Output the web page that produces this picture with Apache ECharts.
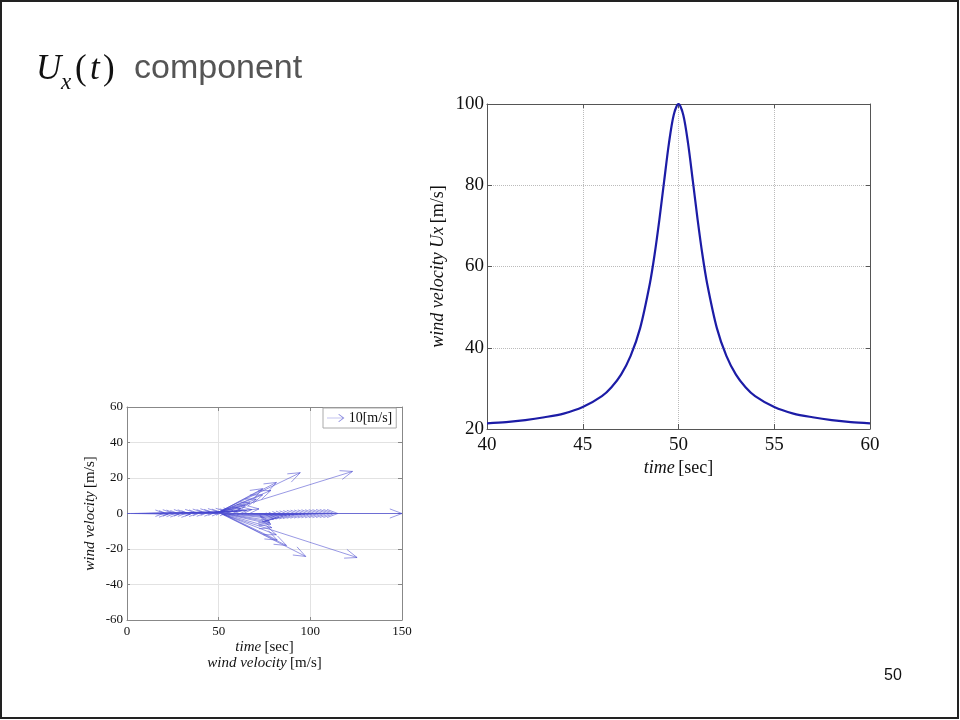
<!DOCTYPE html>
<html>
<head>
<meta charset="utf-8">
<script src="https://cdn.jsdelivr.net/npm/echarts@6/dist/echarts.min.js"></script>
<style>
  html, body { margin: 0; padding: 0; background: #fff; }
  #main { width: 960px; height: 720px; }
</style>
</head>
<body>
<div id="main"></div>
<script>
// main plot: wind velocity Ux vs time
var mainTime = [40, 41, 42, 43, 44, 45, 46, 46.5, 47, 47.5, 48, 48.5, 48.75, 49, 49.25, 49.5, 49.75, 50,
                50.25, 50.5, 50.75, 51, 51.25, 51.5, 52, 52.5, 53, 53.5, 54, 55, 56, 57, 58, 59, 60];
var mainUx = [21.4, 21.7, 22.2, 22.9, 23.8, 25.4, 28.1, 30.3, 33.4, 38.0, 44.9, 55.7, 62.9, 71.5, 81.0, 90.3, 97.3, 100,
              97.3, 90.3, 81.0, 71.5, 62.9, 55.7, 44.9, 38.0, 33.4, 30.3, 28.1, 25.4, 23.8, 22.9, 22.2, 21.7, 21.4];
var mainXTicks = [40, 60, 5];
var mainYTicks = [20, 100, 20];

// quiver plot: arrow start time, u and v components
var quiverT = [0, 2, 4, 6, 8, 10, 12, 14, 16, 18, 20, 22, 24, 26, 28, 30, 32, 34, 36, 38, 40, 42, 44, 46,
               46, 46.5, 47, 47.5, 48, 48.5, 48.5, 49, 48.5, 49,
               50,
               51, 51.5, 51, 51.5, 52, 52.5, 53, 53.5, 52,
               54, 56, 58, 60, 62, 64, 66, 68, 70, 72, 74, 76, 78, 80, 82, 84, 86, 88, 90];
var quiverU = [20.2, 20.2, 20.3, 20.3, 20.4, 20.4, 20.5, 20.5, 20.6, 20.7, 20.8, 20.9, 21.0, 21.1, 21.2, 21.3, 21.5, 21.7, 21.9, 22.2, 22.6, 23.2, 24.0, 26.0,
               16, 18, 20, 23, 26, 30, 33, 25, 46, 74,
               100,
               74.5, 46, 36, 30, 27, 26, 25, 24, 30,
               26, 25.5, 25, 25, 25, 25, 25, 25, 25, 25, 25, 25, 25, 25, 25, 25, 25, 25, 25];
var quiverV = [0.2, -0.3, 0.4, 0.1, -0.2, 0.5, 0.3, -0.4, 0.6, 0.2, 0.8, 0.4, 1.0, 0.5, 1.1, 0.7, 1.3, 0.9, 1.5, 1.2, 1.8, 1.6, 2.2, 2.6,
               3, 4.5, 6, 8, 10.5, 13, 17.5, 14, 23, 23.7,
               0,
               -24.8, -24.2, -18, -12, -8, -6, -5, -4, -15,
               -3, -2.5, -2, -1.5, -1.2, -1, -0.8, -0.6, -0.5, -0.4, -0.3, -0.2, -0.2, -0.1, -0.1, 0, 0, 0, 0];
var quiverXTicks = [0, 150, 50];
var quiverYTicks = [-60, 60, 20];
var legendName = '10[m/s]';

var serif = 'Liberation Serif';

var lineData = [];
for (var i = 0; i < mainTime.length; i++) {
    lineData.push([mainTime[i], mainUx[i]]);
}
var arrowData = [];
for (var j = 0; j < quiverT.length; j++) {
    arrowData.push([quiverT[j], quiverU[j], quiverV[j]]);
}

// MATLAB-like quiver arrow: shaft plus open head
function renderArrow(params, api) {
    var t = api.value(0), u = api.value(1), v = api.value(2);
    var p0 = api.coord([t, 0]);
    var p1 = api.coord([t + u, v]);
    var dx = p1[0] - p0[0], dy = p1[1] - p0[1];
    var len = Math.sqrt(dx * dx + dy * dy);
    var head = Math.min(len * 0.25, 13);
    var ang = Math.atan2(dy, dx);
    var a = 0.36;
    var h1 = [p1[0] - head * Math.cos(ang - a), p1[1] - head * Math.sin(ang - a)];
    var h2 = [p1[0] - head * Math.cos(ang + a), p1[1] - head * Math.sin(ang + a)];
    var st = { stroke: 'rgba(70,70,205,0.55)', fill: null, lineWidth: 1 };
    return {
        type: 'group',
        children: [
            { type: 'polyline', shape: { points: [p0, p1] }, style: st },
            { type: 'polyline', shape: { points: [h1, p1, h2] }, style: st }
        ]
    };
}

var chart = echarts.init(document.getElementById('main'));

function frameAxis(gridIndex, pos, range, color) {
    return {
        type: 'value', gridIndex: gridIndex, position: pos,
        min: range[0], max: range[1], interval: range[2],
        axisLine: { show: true, onZero: false, lineStyle: { color: color, width: 1 } },
        axisTick: { show: true, inside: true, length: 4, lineStyle: { color: color } },
        axisLabel: { show: false },
        splitLine: { show: false }
    };
}

var option = {
    backgroundColor: '#fff',
    animation: false,
    graphic: [
        { type: 'rect', shape: { x: 1, y: 1, width: 957, height: 717 },
          style: { fill: null, stroke: '#222', lineWidth: 2 } },
        { type: 'text', x: 36, y: 70, style: { text: 'U', font: 'italic 35px "Liberation Serif"', fill: '#111', verticalAlign: 'middle' } },
        { type: 'text', x: 61, y: 83, style: { text: 'x', font: 'italic 23px "Liberation Serif"', fill: '#111', verticalAlign: 'middle' } },
        { type: 'text', x: 75, y: 70, style: { text: '(', font: '35px "Liberation Serif"', fill: '#111', verticalAlign: 'middle' } },
        { type: 'text', x: 90, y: 70, style: { text: 't', font: 'italic 35px "Liberation Serif"', fill: '#111', verticalAlign: 'middle' } },
        { type: 'text', x: 103, y: 70, style: { text: ')', font: '35px "Liberation Serif"', fill: '#111', verticalAlign: 'middle' } },
        { type: 'text', x: 134, y: 69, style: { text: 'component', font: '34px "Liberation Sans"', fill: '#555', verticalAlign: 'middle' } },
        { type: 'text', x: 893, y: 676, style: { text: '50', font: '16px "Liberation Sans"', fill: '#111', align: 'center', verticalAlign: 'middle' } }
    ],
    legend: {
        data: [legendName],
        left: 323, top: 408,
        orient: 'horizontal',
        borderColor: '#aaa', borderWidth: 1, padding: [3, 4, 3, 4],
        itemWidth: 20, itemHeight: 8, itemGap: 2,
        icon: 'path://M0,4.6 L18,4.6 L13,1 L13.8,0.4 L20,5 L13.8,9.6 L13,9 L18,5.4 L0,5.4 Z',
        itemStyle: { color: 'rgba(90,90,210,0.7)' },
        textStyle: { fontFamily: serif, fontSize: 14, color: '#111', padding: [0, 0, 0, -2] },
        selectedMode: false
    },
    grid: [
        { left: 487, top: 104, width: 383, height: 325, show: false },
        { left: 127, top: 407, width: 275, height: 213, show: false }
    ],
    xAxis: [
        {
            type: 'value', gridIndex: 0, position: 'bottom',
            min: mainXTicks[0], max: mainXTicks[1], interval: mainXTicks[2],
            name: '{i|time} {n|[sec]}', nameLocation: 'middle', nameGap: 30,
            nameTextStyle: { rich: {
                i: { fontFamily: serif, fontStyle: 'italic', fontSize: 18, color: '#111' },
                n: { fontFamily: serif, fontSize: 18, color: '#111' } } },
            axisLine: { show: true, onZero: false, lineStyle: { color: '#555' } },
            axisTick: { show: true, inside: true, length: 5, lineStyle: { color: '#555' } },
            axisLabel: { fontFamily: serif, fontSize: 19, color: '#111', margin: 7 },
            splitLine: { show: true, lineStyle: { color: '#bbb', type: 'dotted', width: 1 } }
        },
        frameAxis(0, 'top', mainXTicks, '#555'),
        {
            type: 'value', gridIndex: 1, position: 'bottom',
            min: quiverXTicks[0], max: quiverXTicks[1], interval: quiverXTicks[2],
            name: '{i|time} {n|[sec]}\n{i|wind velocity} {n|[m/s]}', nameLocation: 'middle', nameGap: 19,
            nameTextStyle: { lineHeight: 16, rich: {
                i: { fontFamily: serif, fontStyle: 'italic', fontSize: 15, color: '#111', lineHeight: 16 },
                n: { fontFamily: serif, fontSize: 15, color: '#111', lineHeight: 16 } } },
            axisLine: { show: true, onZero: false, lineStyle: { color: '#888' } },
            axisTick: { show: true, inside: true, length: 3, lineStyle: { color: '#888' } },
            axisLabel: { fontFamily: serif, fontSize: 13, color: '#111', margin: 5 },
            splitLine: { show: true, lineStyle: { color: '#e2e2e2', width: 1 } }
        },
        frameAxis(1, 'top', quiverXTicks, '#888')
    ],
    yAxis: [
        {
            type: 'value', gridIndex: 0, position: 'left',
            min: mainYTicks[0], max: mainYTicks[1], interval: mainYTicks[2],
            name: '{i|wind velocity Ux} {n|[m/s]}', nameLocation: 'middle', nameGap: 40, nameRotate: 90,
            nameTextStyle: { rich: {
                i: { fontFamily: serif, fontStyle: 'italic', fontSize: 18, color: '#111' },
                n: { fontFamily: serif, fontSize: 18, color: '#111' } } },
            axisLine: { show: true, onZero: false, lineStyle: { color: '#555' } },
            axisTick: { show: true, inside: true, length: 5, lineStyle: { color: '#555' } },
            axisLabel: { fontFamily: serif, fontSize: 19, color: '#111', margin: 3 },
            splitLine: { show: true, lineStyle: { color: '#bbb', type: 'dotted', width: 1 } }
        },
        frameAxis(0, 'right', mainYTicks, '#555'),
        {
            type: 'value', gridIndex: 1, position: 'left',
            min: quiverYTicks[0], max: quiverYTicks[1], interval: quiverYTicks[2],
            name: '{i|wind velocity} {n|[m/s]}', nameLocation: 'middle', nameGap: 29, nameRotate: 90,
            nameTextStyle: { rich: {
                i: { fontFamily: serif, fontStyle: 'italic', fontSize: 15, color: '#111' },
                n: { fontFamily: serif, fontSize: 15, color: '#111' } } },
            axisLine: { show: true, onZero: false, lineStyle: { color: '#888' } },
            axisTick: { show: true, inside: true, length: 3, lineStyle: { color: '#888' } },
            axisLabel: { fontFamily: serif, fontSize: 13, color: '#111', margin: 4 },
            splitLine: { show: true, lineStyle: { color: '#e2e2e2', width: 1 } }
        },
        frameAxis(1, 'right', quiverYTicks, '#888')
    ],
    series: [
        {
            type: 'line', xAxisIndex: 0, yAxisIndex: 0,
            data: lineData, smooth: 0.3, showSymbol: false,
            lineStyle: { color: '#1c1ca6', width: 2.2 }
        },
        {
            type: 'line', xAxisIndex: 2, yAxisIndex: 2,
            data: [[0, 0], [150, 0]], showSymbol: false, silent: true,
            lineStyle: { color: 'rgba(90,90,210,0.6)', width: 1 }
        },
        {
            name: legendName,
            type: 'custom', xAxisIndex: 2, yAxisIndex: 2,
            renderItem: renderArrow,
            encode: { x: 0, y: 2 },
            data: arrowData
        }
    ]
};
chart.setOption(option);
</script>
</body>
</html>
